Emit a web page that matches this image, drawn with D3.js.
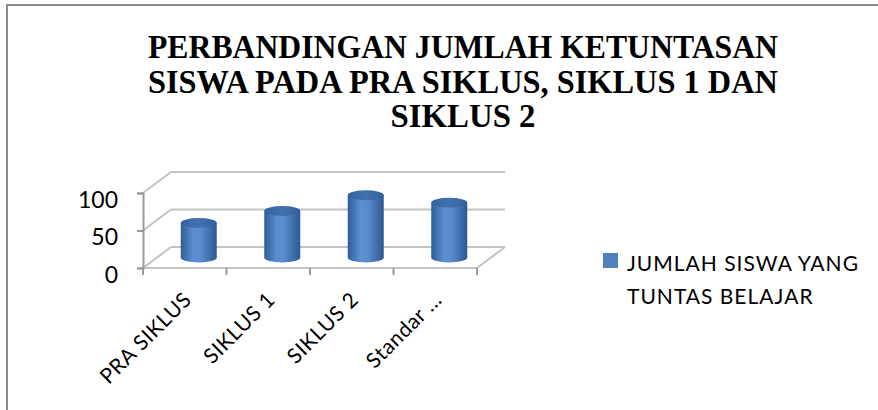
<!DOCTYPE html>
<html>
<head>
<meta charset="utf-8">
<script src="https://cdn.jsdelivr.net/npm/d3@7"></script>
<style>
  body { margin: 0; background: #fff; }
</style>
</head>
<body>
<svg id="chart"></svg>
<script>
// data
const categories = ["PRA SIKLUS", "SIKLUS 1", "SIKLUS 2", "Standar ..."];
const values = [46, 62, 83, 73];
const yTicks = [0, 50, 100];
const titleLines = [
  "PERBANDINGAN JUMLAH KETUNTASAN",
  "SISWA PADA PRA SIKLUS, SIKLUS 1 DAN",
  "SIKLUS 2"
];
const legendLines = ["JUMLAH SISWA YANG", "TUNTAS BELAJAR"];

const W = 878, H = 410;
const depthX = 28, depthY = -21;

const svg = d3.select("#chart")
  .attr("width", W)
  .attr("height", H);

// outer frame (right / bottom edge are off the picture)
svg.append("rect")
  .attr("x", 7).attr("y", 5)
  .attr("width", 960).attr("height", 500)
  .attr("fill", "none")
  .attr("stroke", "#8c8c8c")
  .attr("stroke-width", 2);

// title
const titleWidths = [630, 630, 145];
svg.append("g")
  .selectAll("text")
  .data(titleLines)
  .join("text")
    .attr("x", 463)
    .attr("y", (d, i) => 58 + i * 34.5)
    .attr("text-anchor", "middle")
    .attr("font-family", "Liberation Serif, Times New Roman, serif")
    .attr("font-weight", "bold")
    .attr("font-size", 34)
    .attr("textLength", (d, i) => titleWidths[i])
    .attr("lengthAdjust", "spacingAndGlyphs")
    .attr("fill", "#000")
    .text(d => d);

const xScale = d3.scaleBand()
  .domain(categories)
  .range([143, 477]);

const yScale = d3.scaleLinear()
  .domain([0, 100])
  .range([268, 193]);

const grid = svg.append("g")
  .attr("stroke", "#c3c3c3")
  .attr("stroke-width", 2)
  .attr("fill", "none");

const x0 = xScale.range()[0], x1 = xScale.range()[1];

// back wall lines + side wall diagonals
yTicks.forEach(t => {
  const y = yScale(t);
  grid.append("line")
    .attr("x1", x0 + depthX).attr("y1", y + depthY)
    .attr("x2", x1 + depthX).attr("y2", y + depthY);
  grid.append("line")
    .attr("x1", x0).attr("y1", y)
    .attr("x2", x0 + depthX).attr("y2", y + depthY);
});

// floor front edge and right diagonal
grid.append("line")
  .attr("x1", x0).attr("y1", yScale(0))
  .attr("x2", x1).attr("y2", yScale(0));
grid.append("line")
  .attr("x1", x1).attr("y1", yScale(0))
  .attr("x2", x1 + depthX).attr("y2", yScale(0) + depthY);

// y axis
const yAxis = d3.axisLeft(yScale).tickValues(yTicks).tickSize(6).tickPadding(19);
const gy = svg.append("g")
  .attr("transform", `translate(${x0},0)`)
  .call(yAxis);
gy.selectAll("path, line").attr("stroke", "#9a9a9a").attr("stroke-width", 2);
gy.selectAll("text")
  .attr("dy", "0.62em")
  .attr("font-family", "Lato, Open Sans, sans-serif")
  .attr("font-size", 23)
  .attr("fill", "#000");

// x axis
const xAxis = d3.axisBottom(xScale).tickSize(0).tickFormat("");
const gx = svg.append("g")
  .attr("transform", `translate(0,${yScale(0)})`)
  .call(xAxis);
gx.select(".domain").remove();
gx.selectAll("line.bound")
  .data(d3.range(categories.length + 1))
  .join("line")
    .attr("class", "bound")
    .attr("x1", i => x0 + i * xScale.bandwidth())
    .attr("x2", i => x0 + i * xScale.bandwidth())
    .attr("y1", 0).attr("y2", 7)
    .attr("stroke", "#9a9a9a")
    .attr("stroke-width", 2);

svg.append("g")
  .selectAll("text")
  .data(categories)
  .join("text")
    .attr("transform", d => `translate(${xScale(d) + xScale.bandwidth() / 2 + 8},${yScale(0) + 33}) rotate(-45)`)
    .attr("text-anchor", "end")
    .attr("font-family", "Lato, Open Sans, sans-serif")
    .attr("font-size", 21)
    .attr("letter-spacing", 0.6)
    .attr("fill", "#000")
    .text(d => d);

// cylinder shading
const defs = svg.append("defs");
const body = defs.append("linearGradient").attr("id", "cylBody");
[["0%", "#2f5d98"], ["35%", "#5b8fd1"], ["55%", "#5a8ccd"], ["100%", "#2c5892"]]
  .forEach(s => body.append("stop").attr("offset", s[0]).attr("stop-color", s[1]));
const top_ = defs.append("linearGradient").attr("id", "cylTop");
[["0%", "#3463a0"], ["50%", "#4372b0"], ["100%", "#30609c"]]
  .forEach(s => top_.append("stop").attr("offset", s[0]).attr("stop-color", s[1]));

const rx = 18, ry = 5;
const bars = svg.append("g")
  .selectAll("g")
  .data(categories.map((c, i) => ({ cat: c, value: values[i] })))
  .join("g");

const cx = d => xScale(d.cat) + xScale.bandwidth() / 2 + depthX / 2;
const baseY = yScale(0) + depthY / 2;
const topY = d => yScale(d.value) + depthY / 2;

bars.append("path")
  .attr("d", d => {
    const l = cx(d) - rx, r = cx(d) + rx;
    return `M${l},${topY(d)} L${l},${baseY} A${rx},${ry} 0 0 0 ${r},${baseY} L${r},${topY(d)} Z`;
  })
  .attr("fill", "url(#cylBody)");

bars.append("ellipse")
  .attr("cx", cx)
  .attr("cy", topY)
  .attr("rx", rx)
  .attr("ry", ry)
  .attr("fill", "url(#cylTop)");

// legend
const legend = svg.append("g").attr("transform", "translate(603,253)");
legend.append("rect")
  .attr("width", 15).attr("height", 15)
  .attr("fill", "#4f81bd");
legend.selectAll("text")
  .data(legendLines)
  .join("text")
    .attr("x", 24)
    .attr("y", (d, i) => 18 + i * 33)
    .attr("font-family", "Lato, Open Sans, sans-serif")
    .attr("font-size", 21)
    .attr("letter-spacing", 1)
    .attr("fill", "#000")
    .text(d => d);
</script>
</body>
</html>
